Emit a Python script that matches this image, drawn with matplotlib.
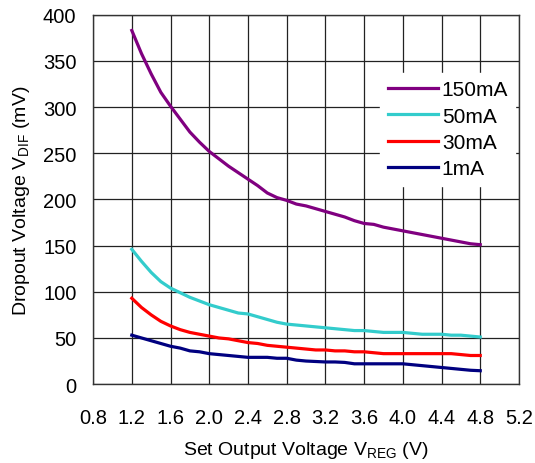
import matplotlib
matplotlib.use("Agg")
import matplotlib.pyplot as plt

plt.rcParams['font.family'] = ['Liberation Sans', 'DejaVu Sans']

# salida ajustada (V)
vreg = [1.2, 1.3, 1.4, 1.5, 1.6, 1.7, 1.8, 1.9, 2.0, 2.1, 2.2, 2.3, 2.4, 2.5, 2.6, 2.7,
        2.8, 2.9, 3.0, 3.1, 3.2, 3.3, 3.4, 3.5, 3.6, 3.7, 3.8, 3.9, 4.0, 4.1, 4.2, 4.3,
        4.4, 4.5, 4.6, 4.7, 4.8]

i150 = [383, 358, 336, 316, 301, 287, 273, 262, 252, 244, 236, 229, 222, 215, 207, 202,
        199, 195, 193, 190, 187, 184, 181, 177, 174, 173, 170, 168, 166, 164, 162, 160,
        158, 156, 154, 152, 151]
i50 = [146, 133, 121, 111, 104, 99, 94, 90, 86, 83, 80, 77, 76, 73, 70, 67,
       65, 64, 63, 62, 61, 60, 59, 58, 58, 57, 56, 56, 56, 55, 54, 54,
       54, 53, 53, 52, 51]
i30 = [93, 83, 75, 68, 63, 59, 56, 54, 52, 50, 49, 47, 45, 44, 42, 41,
       40, 39, 38, 37, 37, 36, 36, 35, 35, 34, 33, 33, 33, 33, 33, 33,
       33, 33, 32, 31, 31]
i1 = [53, 50, 47, 44, 41, 39, 36, 35, 33, 32, 31, 30, 29, 29, 29, 28,
      28, 26, 25, 24.5, 24, 24, 23.5, 22, 22, 22, 22, 22, 22, 21, 20, 19,
      18, 17, 16, 15, 14.5]

xticks = [0.8, 1.2, 1.6, 2.0, 2.4, 2.8, 3.2, 3.6, 4.0, 4.4, 4.8, 5.2]
yticks = [0, 50, 100, 150, 200, 250, 300, 350, 400]

fig = plt.figure(figsize=(5.35, 4.64), dpi=100)
ax = fig.add_axes([0.174, 0.170, 0.796, 0.796])

ax.plot(vreg, i150, color='#800080', linewidth=2.3, label='150mA')
ax.plot(vreg, i50, color='#33CCCC', linewidth=2.3, label='50mA')
ax.plot(vreg, i30, color='#FF0000', linewidth=2.3, label='30mA')
ax.plot(vreg, i1, color='#000080', linewidth=2.3, label='1mA')

ax.set_xlim(0.8, 5.2)
ax.set_ylim(0, 400)
ax.set_xticks(xticks)
ax.set_xticklabels(['%.1f' % v for v in xticks])
ax.set_yticks(yticks)
ax.grid(True, color='#222222', linewidth=0.9)
ax.tick_params(labelsize=14.5, length=0, pad=12)
ax.tick_params(axis='x', pad=17)
for s in ax.spines.values():
    s.set_color('#333333')
    s.set_linewidth(1)

ax.set_xlabel(r'Set Output Voltage V$\mathregular{_{REG}}$ (V)', fontsize=14, labelpad=9)
ax.set_ylabel(r'Dropout Voltage V$\mathregular{_{DIF}}$ (mV)', fontsize=14, labelpad=8)

leg = ax.legend(loc='upper left', bbox_to_anchor=(0.65, 0.87), fontsize=15,
                frameon=True, fancybox=False, framealpha=1, edgecolor='white',
                handlelength=2.4, handletextpad=0.2, labelspacing=0.35,
                borderpad=0.35)

fig.savefig('out.png', dpi=100)
